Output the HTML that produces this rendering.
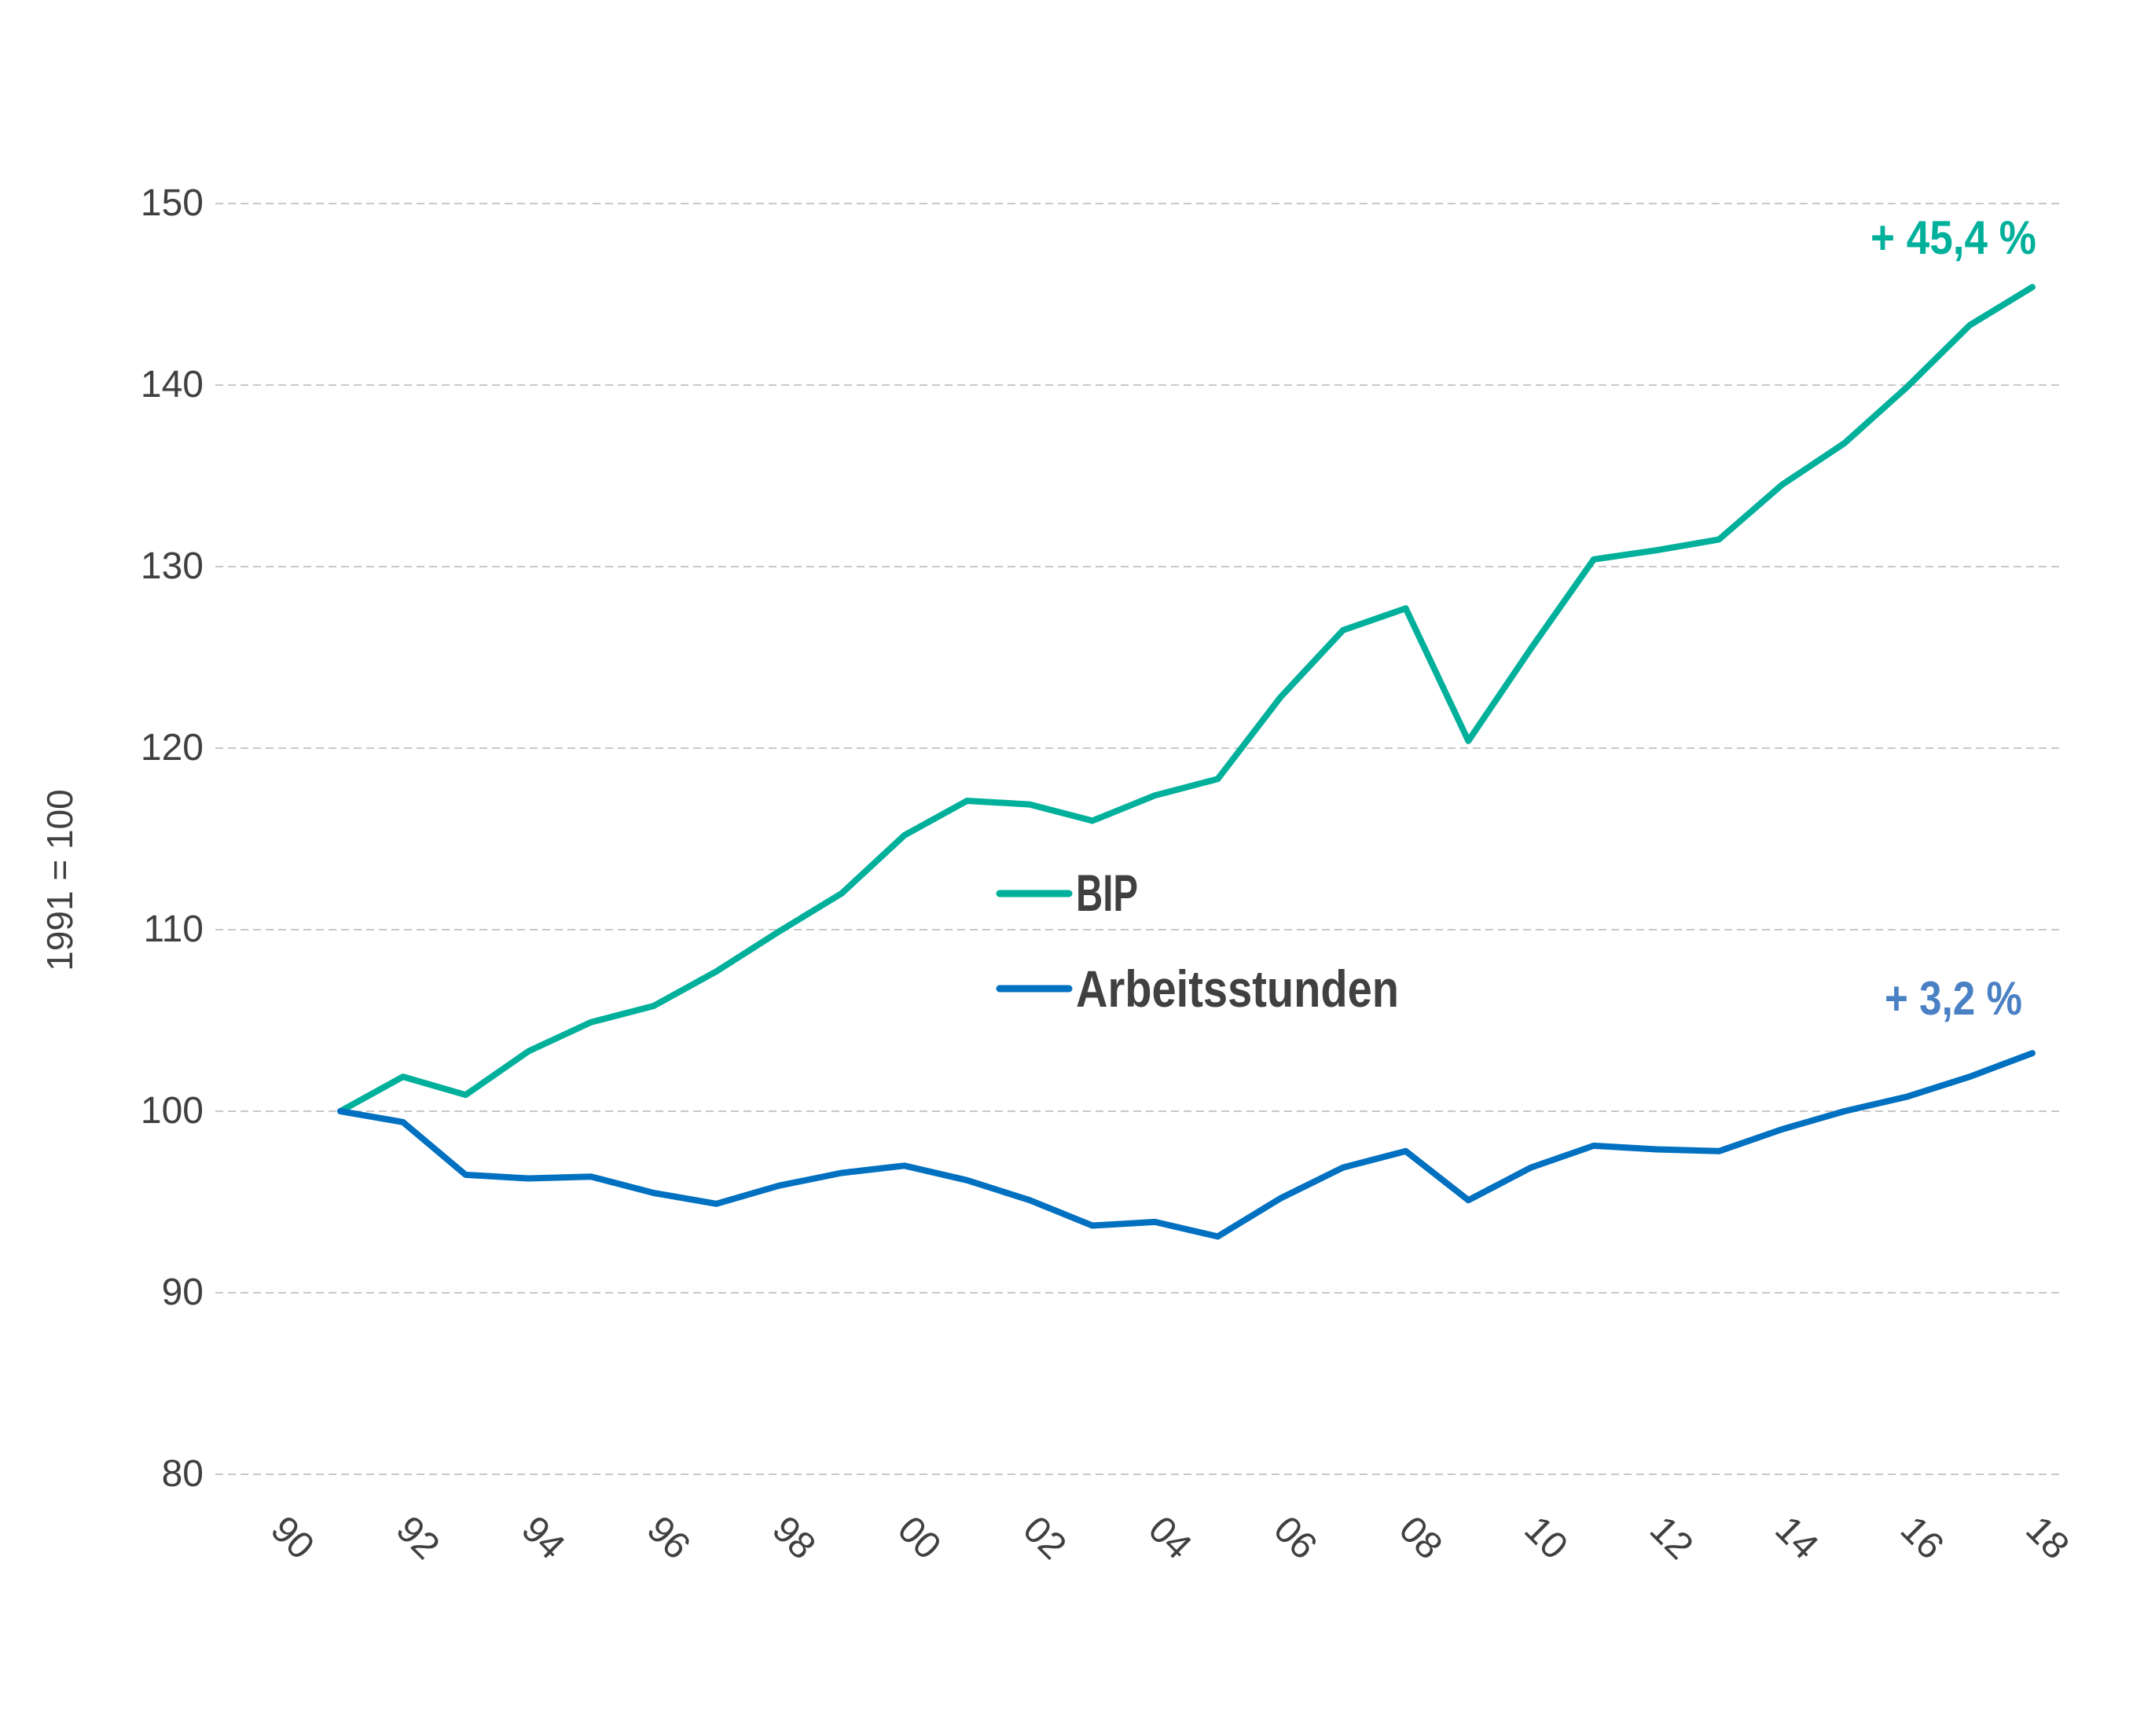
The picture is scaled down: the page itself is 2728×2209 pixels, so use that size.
<!DOCTYPE html>
<html><head><meta charset="utf-8"><style>html,body{margin:0;padding:0;background:#fff}svg{display:block}</style></head>
<body>
<svg width="2728" height="2209" viewBox="0 0 2728 2209" xmlns="http://www.w3.org/2000/svg" font-family="Liberation Sans, sans-serif">
<g stroke="#c8c8c8" stroke-width="2" stroke-dasharray="10,6">
<line x1="274" y1="259" x2="2622" y2="259"/>
<line x1="274" y1="490" x2="2622" y2="490"/>
<line x1="274" y1="721" x2="2622" y2="721"/>
<line x1="274" y1="952" x2="2622" y2="952"/>
<line x1="274" y1="1183" x2="2622" y2="1183"/>
<line x1="274" y1="1414" x2="2622" y2="1414"/>
<line x1="274" y1="1645" x2="2622" y2="1645"/>
<line x1="274" y1="1876" x2="2622" y2="1876"/>
</g>
<g fill="#404040" font-size="48" text-anchor="end">
<text x="259" y="274">150</text>
<text x="259" y="505">140</text>
<text x="259" y="736">130</text>
<text x="259" y="967">120</text>
<text x="259" y="1198">110</text>
<text x="259" y="1429">100</text>
<text x="259" y="1660">90</text>
<text x="259" y="1891">80</text>
</g>
<text transform="translate(92,1120) rotate(-90)" fill="#404040" font-size="46" text-anchor="middle">1991 = 100</text>
<g fill="#404040" font-size="48" text-anchor="middle">
<text transform="translate(361,1968) rotate(45)">90</text>
<text transform="translate(520.5,1968) rotate(45)">92</text>
<text transform="translate(680,1968) rotate(45)">94</text>
<text transform="translate(839.5,1968) rotate(45)">96</text>
<text transform="translate(999,1968) rotate(45)">98</text>
<text transform="translate(1158.5,1968) rotate(45)">00</text>
<text transform="translate(1318,1968) rotate(45)">02</text>
<text transform="translate(1477.5,1968) rotate(45)">04</text>
<text transform="translate(1637,1968) rotate(45)">06</text>
<text transform="translate(1796.5,1968) rotate(45)">08</text>
<text transform="translate(1956,1968) rotate(45)">10</text>
<text transform="translate(2115.5,1968) rotate(45)">12</text>
<text transform="translate(2275,1968) rotate(45)">14</text>
<text transform="translate(2434.5,1968) rotate(45)">16</text>
<text transform="translate(2594,1968) rotate(45)">18</text>
</g>
<g transform="translate(433,0) scale(0.9949,1) translate(-435,0)">
<polyline fill="none" stroke="#00b09b" stroke-width="8" stroke-linejoin="round" stroke-linecap="round" points="435,1414 515.2,1370.1 595.3,1393.2 675.5,1337.8 755.6,1300.8 835.8,1280 915.9,1236.1 996.1,1185.3 1076.2,1136.8 1156.4,1062.9 1236.5,1019 1316.7,1023.6 1396.8,1044.4 1477,1012.1 1557.1,991.3 1637.3,887.3 1717.4,801.9 1797.6,774.1 1877.7,942.8 1957.9,825 2038,711.8 2118.2,700.2 2198.3,686.4 2278.5,617.1 2358.6,564 2438.8,492.4 2518.9,413.8 2599,365.3"/>
<polyline fill="none" stroke="#0070c0" stroke-width="8" stroke-linejoin="round" stroke-linecap="round" points="435,1414 515.2,1427.9 595.3,1494.9 675.5,1499.5 755.6,1497.2 835.8,1518 915.9,1531.8 996.1,1508.7 1076.2,1492.5 1156.4,1483.3 1236.5,1501.8 1316.7,1527.2 1396.8,1559.5 1477,1554.9 1557.1,1573.4 1637.3,1524.9 1717.4,1485.6 1797.6,1464.8 1877.7,1527.2 1957.9,1485.6 2038,1457.9 2118.2,1462.5 2198.3,1464.8 2278.5,1437.1 2358.6,1414 2438.8,1395.5 2518.9,1370.1 2599,1340.1"/>
</g>
<line x1="1272" y1="1137" x2="1360" y2="1137" stroke="#00b09b" stroke-width="9" stroke-linecap="round"/>
<line x1="1272" y1="1258" x2="1360" y2="1258" stroke="#0070c0" stroke-width="9" stroke-linecap="round"/>
<g fill="#404040" font-size="66" font-weight="bold">
<text x="1369" y="1159" textLength="79" lengthAdjust="spacingAndGlyphs">BIP</text>
<text x="1369" y="1281" textLength="411" lengthAdjust="spacingAndGlyphs">Arbeitsstunden</text>
</g>
<text x="2380" y="323" fill="#00b09b" font-size="60" font-weight="bold" textLength="211" lengthAdjust="spacingAndGlyphs">+ 45,4 %</text>
<text x="2398" y="1291" fill="#4a80c4" font-size="60" font-weight="bold" textLength="175" lengthAdjust="spacingAndGlyphs">+ 3,2 %</text>
</svg>
</body></html>
